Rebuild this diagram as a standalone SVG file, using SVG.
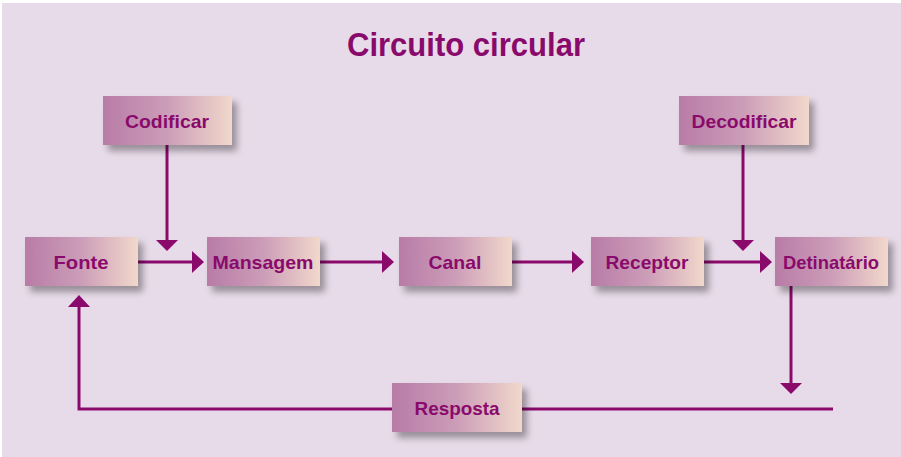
<svg xmlns="http://www.w3.org/2000/svg" width="901" height="457" viewBox="0 0 901 457">
<defs>
<linearGradient id="g" x1="0" y1="0" x2="1" y2="0">
<stop offset="0" stop-color="#b87ca7"/>
<stop offset="0.5" stop-color="#cc9db8"/>
<stop offset="1" stop-color="#f1d8cb"/>
</linearGradient>
<filter id="sh" x="-20%" y="-30%" width="150%" height="180%">
<feGaussianBlur in="SourceAlpha" stdDeviation="3.5"/>
<feOffset dx="5" dy="6" result="b"/>
<feComponentTransfer><feFuncA type="linear" slope="0.35"/></feComponentTransfer>
<feMerge><feMergeNode/><feMergeNode in="SourceGraphic"/></feMerge>
</filter>
</defs>
<style>
.box{fill:url(#g);filter:url(#sh)}
.lbl{font-family:"Liberation Sans",Arial,sans-serif;font-weight:bold;font-size:19px;fill:#8a0a6c;text-anchor:middle}
.ln{stroke:#8a0a6c;stroke-width:3;fill:none}
.hd{fill:#8a0a6c}
</style>
<rect x="0" y="0" width="901" height="457" fill="#ffffff"/>
<rect x="2" y="3" width="899" height="454" fill="#e8dbe9"/>
<text x="466" y="56" font-family="'Liberation Sans',Arial,sans-serif" font-weight="bold" font-size="33" fill="#8a0a6c" text-anchor="middle" textLength="238" lengthAdjust="spacingAndGlyphs">Circuito circular</text>

<g id="connectors">
<path class="ln" d="M167,145 V240"/>
<path class="hd" d="M156,240 H178 L167,251 Z"/>
<path class="ln" d="M138,262 H192"/>
<path class="hd" d="M192,251 L204,262 L192,273 Z"/>
<path class="ln" d="M320,262 H382"/>
<path class="hd" d="M382,251 L394,262 L382,273 Z"/>
<path class="ln" d="M512,262 H572"/>
<path class="hd" d="M572,251 L584,262 L572,273 Z"/>
<path class="ln" d="M743,145 V240"/>
<path class="hd" d="M732,240 H754 L743,251 Z"/>
<path class="ln" d="M704,262 H760"/>
<path class="hd" d="M760,251 L772,262 L760,273 Z"/>
<path class="ln" d="M791,286 V383"/>
<path class="hd" d="M780,383 H802 L791,394 Z"/>
<path class="ln" d="M833,409 H522"/>
<path class="ln" d="M392,409 H79 V306"/>
<path class="hd" d="M68,307 H90 L79,295 Z"/>
</g>

<g id="codificar"><rect class="box" x="103" y="96" width="129" height="49"/><text class="lbl" x="167" y="128" textLength="84" lengthAdjust="spacingAndGlyphs">Codificar</text></g>
<g id="decodificar"><rect class="box" x="679" y="96" width="130" height="49"/><text class="lbl" x="744" y="128" textLength="105" lengthAdjust="spacingAndGlyphs">Decodificar</text></g>
<g id="fonte"><rect class="box" x="25" y="237" width="113" height="49"/><text class="lbl" x="81" y="269" textLength="55" lengthAdjust="spacingAndGlyphs">Fonte</text></g>
<g id="mansagem"><rect class="box" x="207" y="237" width="113" height="49"/><text class="lbl" x="263" y="269" textLength="101" lengthAdjust="spacingAndGlyphs">Mansagem</text></g>
<g id="canal"><rect class="box" x="399" y="237" width="113" height="49"/><text class="lbl" x="455" y="269" textLength="53" lengthAdjust="spacingAndGlyphs">Canal</text></g>
<g id="receptor"><rect class="box" x="591" y="237" width="113" height="49"/><text class="lbl" x="647" y="269" textLength="83" lengthAdjust="spacingAndGlyphs">Receptor</text></g>
<g id="detinatario"><rect class="box" x="775" y="237" width="113" height="49"/><text class="lbl" x="831" y="269" textLength="96" lengthAdjust="spacingAndGlyphs">Detinatário</text></g>
<g id="resposta"><rect class="box" x="392" y="383" width="130" height="49"/><text class="lbl" x="457" y="415" textLength="85" lengthAdjust="spacingAndGlyphs">Resposta</text></g>
</svg>
